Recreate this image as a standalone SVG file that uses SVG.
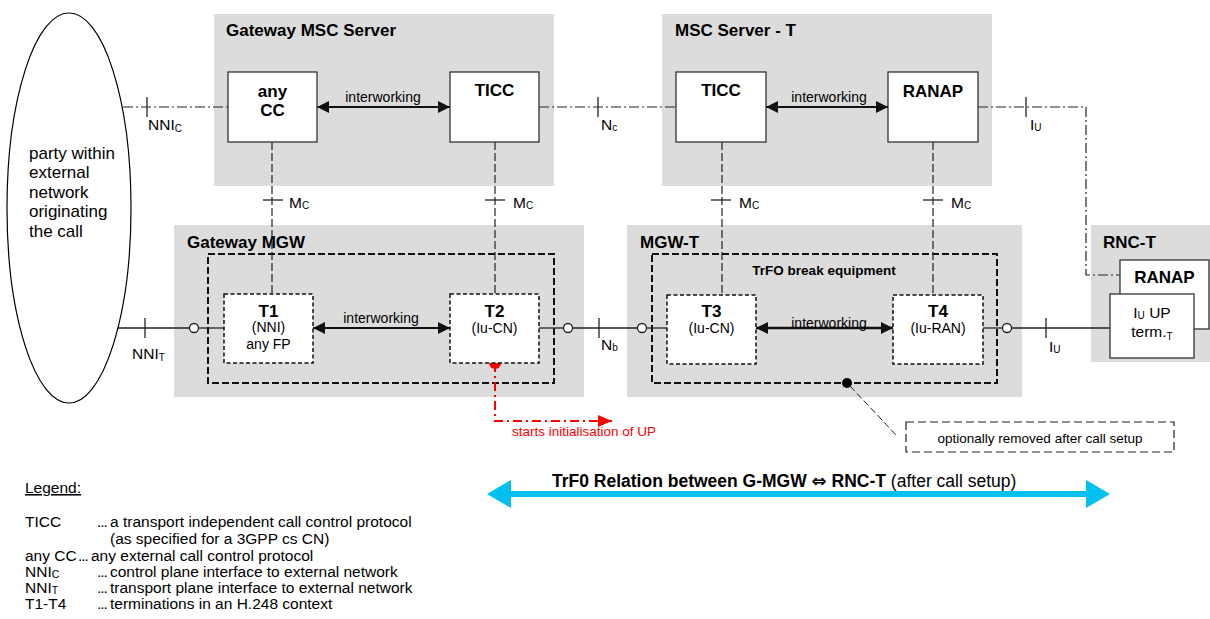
<svg xmlns="http://www.w3.org/2000/svg" width="1210" height="619" viewBox="0 0 1210 619">
<style>
text{font-family:"Liberation Sans",Arial,sans-serif;fill:#000}
.title{font-size:17px;font-weight:bold}
.bx{font-size:17px;font-weight:bold;text-anchor:middle}
.sm{font-size:14px}
.smc{font-size:14px;text-anchor:middle}
.lbl{font-size:15.5px}
.leg{font-size:15.5px}
.dots{font-size:15.5px;letter-spacing:-1px}
.grey{fill:#dcdcdc;stroke:none}
.box{fill:#fff;stroke:#333;stroke-width:1.3}
.dbox{fill:none;stroke:#111;stroke-width:2;stroke-dasharray:7 3}
.tbox{fill:#fff;stroke:#111;stroke-width:1.5;stroke-dasharray:4 2.5}
.dashdot{fill:none;stroke:#222;stroke-width:1.2;stroke-dasharray:10 3 2 3}
.dash{fill:none;stroke:#222;stroke-width:1.2;stroke-dasharray:8 3}
.solid{fill:none;stroke:#222;stroke-width:1.3}
.tick{stroke:#222;stroke-width:1.3}
.iw{stroke:#111;stroke-width:2;marker-start:url(#arr);marker-end:url(#arr)}
.circ{fill:#fff;stroke:#222;stroke-width:1.3}
</style>
<defs>
<marker id="arr" viewBox="0 0 12 12" refX="12" refY="6" markerWidth="12" markerHeight="12" markerUnits="userSpaceOnUse" orient="auto-start-reverse"><path d="M0,0 L12,6 L0,12 z" fill="#111"/></marker>
<marker id="rarr" viewBox="0 0 14 12" refX="14" refY="6" markerWidth="14" markerHeight="12" markerUnits="userSpaceOnUse" orient="auto"><path d="M0,0 L14,6 L0,12 z" fill="#f00"/></marker>
</defs>

<!-- grey containers -->
<g id="gateway-msc-server">
<rect class="grey" x="214" y="14" width="340" height="172"/>
<text class="title" x="226" y="36">Gateway MSC Server</text>
</g>
<g id="msc-server-t">
<rect class="grey" x="662" y="14" width="330" height="172"/>
<text class="title" x="675" y="36">MSC Server - T</text>
</g>
<g id="gateway-mgw">
<rect class="grey" x="174" y="225" width="410" height="172"/>
<text class="title" x="187" y="248">Gateway MGW</text>
<rect class="dbox" x="208" y="254" width="346" height="129"/>
</g>
<g id="mgw-t">
<rect class="grey" x="627" y="225" width="395" height="172"/>
<text class="title" x="640" y="248">MGW-T</text>
<rect class="dbox" x="652" y="254" width="345" height="129"/>
<text x="824" y="275" style="font-size:13.5px;font-weight:bold;text-anchor:middle">TrFO break equipment</text>
</g>
<g id="rnc-t">
<rect class="grey" x="1091" y="225" width="119" height="137"/>
<text class="title" x="1103" y="248">RNC-T</text>
</g>

<!-- connectors -->
<g id="connectors">
<!-- control plane dash-dot -->
<line class="dashdot" x1="123" y1="107" x2="228" y2="107"/>
<line class="dashdot" x1="539" y1="107" x2="676" y2="107"/>
<polyline class="dashdot" points="978,107 1086,107 1086,275 1120,275"/>
<!-- Mc dashed -->
<line class="dash" x1="272" y1="142" x2="272" y2="294"/>
<line class="dash" x1="495" y1="142" x2="495" y2="294"/>
<line class="dash" x1="722" y1="142" x2="722" y2="295"/>
<line class="dash" x1="933" y1="142" x2="933" y2="295"/>
<!-- interworking arrows -->
<line class="iw" x1="317" y1="107" x2="450" y2="107"/>
<line class="iw" x1="766" y1="107" x2="888" y2="107"/>
<line class="iw" x1="313" y1="328" x2="450" y2="328"/>
<line class="iw" x1="756" y1="328" x2="893" y2="328" style="stroke-width:2.5"/>
<!-- transport line -->
<line class="solid" x1="117" y1="328" x2="189.5" y2="328"/>
<line class="solid" x1="198.5" y1="328" x2="224" y2="328"/>
<line class="solid" x1="539" y1="328" x2="563.5" y2="328"/>
<line class="solid" x1="572.5" y1="328" x2="637.5" y2="328"/>
<line class="solid" x1="646.5" y1="328" x2="667" y2="328"/>
<line class="solid" x1="983" y1="328" x2="1002.5" y2="328"/>
<line class="solid" x1="1011.5" y1="328" x2="1110" y2="328"/>
<circle class="circ" cx="194" cy="328" r="4.5"/>
<circle class="circ" cx="568" cy="328" r="4.5"/>
<circle class="circ" cx="642" cy="328" r="4.5"/>
<circle class="circ" cx="1007" cy="328" r="4.5"/>
<!-- ticks -->
<line class="tick" x1="147" y1="97" x2="147" y2="117"/>
<line class="tick" x1="598" y1="97" x2="598" y2="117"/>
<line class="tick" x1="1026" y1="97" x2="1026" y2="117"/>
<line class="tick" x1="263" y1="200" x2="283" y2="200"/>
<line class="tick" x1="485" y1="200" x2="505" y2="200"/>
<line class="tick" x1="711" y1="200" x2="731" y2="200"/>
<line class="tick" x1="923" y1="200" x2="943" y2="200"/>
<line class="tick" x1="145" y1="318" x2="145" y2="338"/>
<line class="tick" x1="599" y1="318" x2="599" y2="338"/>
<line class="tick" x1="1046" y1="318" x2="1046" y2="338"/>
<!-- labels -->
<text class="sm" x="383" y="102" text-anchor="middle">interworking</text>
<text class="sm" x="829" y="102" text-anchor="middle">interworking</text>
<text class="sm" x="381" y="323" text-anchor="middle">interworking</text>
<text class="sm" x="829" y="328" text-anchor="middle">interworking</text>
<text class="lbl" x="148" y="130">NNI<tspan font-size="10" dy="2">C</tspan></text>
<text class="lbl" x="601" y="130">N<tspan font-size="10" dy="1">c</tspan></text>
<text class="lbl" x="1030" y="130">I<tspan font-size="10" dy="1">U</tspan></text>
<text class="lbl" x="289" y="208">M<tspan font-size="10" dy="1">C</tspan></text>
<text class="lbl" x="513" y="208">M<tspan font-size="10" dy="1">C</tspan></text>
<text class="lbl" x="739" y="208">M<tspan font-size="10" dy="1">C</tspan></text>
<text class="lbl" x="951" y="208">M<tspan font-size="10" dy="1">C</tspan></text>
<text class="lbl" x="132" y="359">NNI<tspan font-size="10" dy="2">T</tspan></text>
<text class="lbl" x="601" y="350">N<tspan font-size="10" dy="1">b</tspan></text>
<text class="lbl" x="1049" y="352">I<tspan font-size="10" dy="1">U</tspan></text>
<!-- red initialisation -->
<polyline points="495,363 495,421 612,421" fill="none" stroke="#f00" stroke-width="2" stroke-dasharray="9 4 2 4" marker-end="url(#rarr)"/>
<circle cx="495" cy="363" r="6" fill="#f00"/>
<text x="512" y="436" style="font-size:13.5px;fill:#f00">starts initialisation of UP</text>
<!-- optional removal pointer -->
<line x1="850" y1="386" x2="897" y2="436" stroke="#222" stroke-width="1" stroke-dasharray="7 3"/>
<circle cx="847" cy="383" r="5" fill="#000"/>
<!-- TrFO relation blue arrow -->
<polygon points="487,494 511,480 511,491 1086,491 1086,480 1110,494 1086,508 1086,497 511,497 511,508" fill="#00c0f0"/>
<text x="552" y="487" style="font-size:17.5px;font-weight:bold">TrF0 Relation between G-MGW <tspan font-family="DejaVu Sans" font-size="18">⇔</tspan> RNC-T <tspan font-weight="normal" font-size="17.5">(after call setup)</tspan></text>
</g>

<!-- nodes -->
<g id="party">
<ellipse cx="69" cy="208" rx="62" ry="195" fill="#fff" stroke="#000" stroke-width="1.2"/>
<text x="29" y="159" style="font-size:17px">party within</text>
<text x="29" y="178" style="font-size:17px">external</text>
<text x="29" y="198" style="font-size:17px">network</text>
<text x="29" y="217" style="font-size:17px">originating</text>
<text x="29" y="237" style="font-size:17px">the call</text>
</g>
<g id="any-cc">
<rect class="box" x="228" y="72" width="89" height="70"/>
<text class="bx" x="272.5" y="97">any</text>
<text class="bx" x="272.5" y="116">CC</text>
</g>
<g id="ticc-gw">
<rect class="box" x="450" y="72" width="89" height="70"/>
<text class="bx" x="494.5" y="96">TICC</text>
</g>
<g id="ticc-t">
<rect class="box" x="676" y="72" width="90" height="70"/>
<text class="bx" x="721" y="96">TICC</text>
</g>
<g id="ranap-t">
<rect class="box" x="888" y="72" width="90" height="70"/>
<text class="bx" x="933" y="97">RANAP</text>
</g>
<g id="t1">
<rect class="tbox" x="224" y="294" width="89" height="69"/>
<text class="bx" x="268.5" y="317">T1</text>
<text class="smc" x="268.5" y="332">(NNI)</text>
<text class="smc" x="268.5" y="349">any FP</text>
</g>
<g id="t2">
<rect class="tbox" x="450" y="294" width="89" height="69"/>
<text class="bx" x="494.5" y="317">T2</text>
<text class="smc" x="494.5" y="333">(Iu-CN)</text>
</g>
<g id="t3">
<rect class="tbox" x="667" y="295" width="89" height="69"/>
<text class="bx" x="711.5" y="317">T3</text>
<text class="smc" x="711.5" y="333">(Iu-CN)</text>
</g>
<g id="t4">
<rect class="tbox" x="893" y="295" width="90" height="69"/>
<text class="bx" x="938" y="317">T4</text>
<text class="smc" x="938" y="333">(Iu-RAN)</text>
</g>
<g id="ranap-rnc">
<rect class="box" x="1120" y="260" width="89" height="69"/>
<text class="bx" x="1164.5" y="283">RANAP</text>
</g>
<g id="iu-up-term">
<rect class="box" x="1110" y="294" width="84" height="64"/>
<text x="1152" y="318" style="font-size:15.5px;text-anchor:middle">I<tspan font-size="10" dy="1">U</tspan><tspan dy="-1"> UP</tspan></text>
<text x="1152" y="337" style="font-size:15.5px;text-anchor:middle">term.<tspan font-size="10" dy="3">T</tspan></text>
</g>
<g id="optional-note">
<rect x="906" y="422" width="268" height="30" fill="#fff" stroke="#222" stroke-width="1.2" stroke-dasharray="8 4"/>
<text x="1040" y="443" style="font-size:13.5px;text-anchor:middle">optionally removed after call setup</text>
</g>

<!-- legend -->
<g id="legend">
<text class="leg" x="25" y="493" text-decoration="underline">Legend:</text>
<text class="leg" x="25" y="527">TICC</text>
<text class="dots" x="97" y="527">...</text>
<text class="leg" x="110" y="527">a transport independent call control protocol</text>
<text class="leg" x="110" y="544">(as specified for a 3GPP cs CN)</text>
<text class="leg" x="25" y="561">any CC</text>
<text class="dots" x="78" y="561">...</text>
<text class="leg" x="91" y="561">any external call control protocol</text>
<text class="leg" x="25" y="577">NNI<tspan font-size="10.5" dy="1">C</tspan></text>
<text class="dots" x="97" y="577">...</text>
<text class="leg" x="110" y="577">control plane interface to external network</text>
<text class="leg" x="25" y="593">NNI<tspan font-size="10.5" dy="1">T</tspan></text>
<text class="dots" x="97" y="593">...</text>
<text class="leg" x="110" y="593">transport plane interface to external network</text>
<text class="leg" x="25" y="609">T1-T4</text>
<text class="dots" x="97" y="609">...</text>
<text class="leg" x="110" y="609">terminations in an H.248 context</text>
</g>
</svg>
